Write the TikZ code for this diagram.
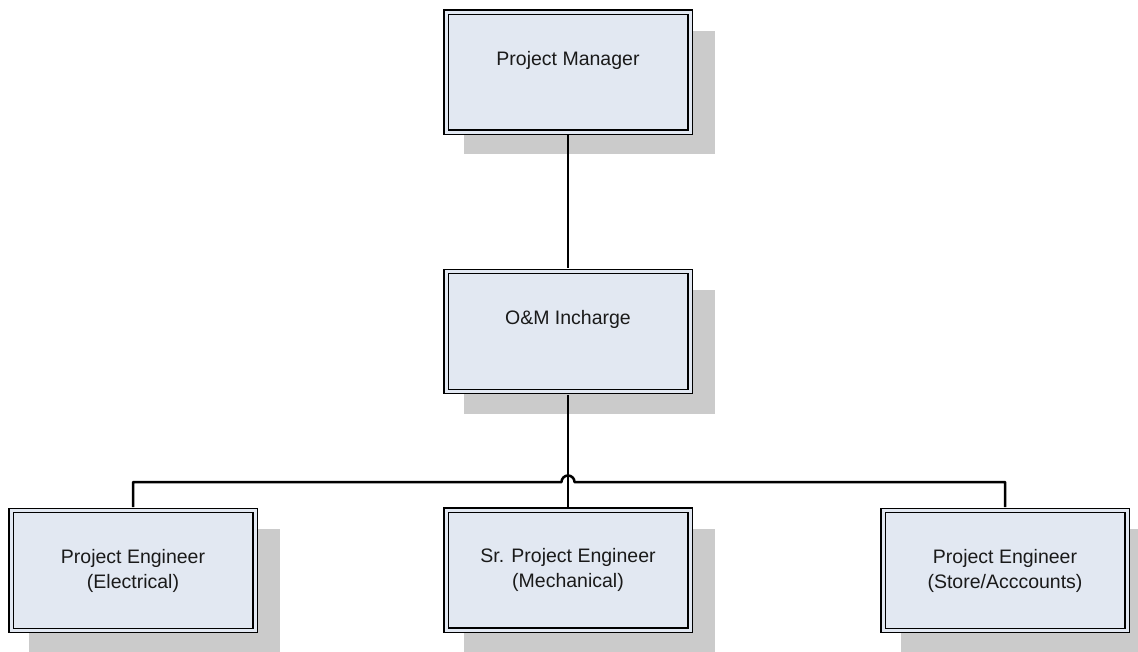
\documentclass[tikz,border=0pt]{standalone}
\usepackage{fontspec}
\setmainfont{Liberation Sans}
\usetikzlibrary{shadows}
\definecolor{boxfill}{HTML}{E2E8F2}
\definecolor{shadowgray}{HTML}{CBCBCB}
\definecolor{txt}{HTML}{1A1A1A}
\begin{document}
\begin{tikzpicture}[x=1pt,y=-1pt,
  orgbox/.style={rectangle, draw=black, line width=1.3pt, double=boxfill, double distance=3pt,
    fill=boxfill, minimum width=244pt, minimum height=120pt, inner sep=0pt, align=center,
    text=txt, font=\fontsize{19.5}{25}\selectfont,
    drop shadow={shadow xshift=21pt, shadow yshift=-20pt, shadow scale=1.03, fill=shadowgray, opacity=1, draw=none}},
  oneline/.style={text height=14pt, text depth=28pt},
  conn/.style={draw=black, line width=2.5pt, shorten <=2.8pt, shorten >=2.8pt}]
\useasboundingbox (0,0) rectangle (1138,651);
\node[orgbox, oneline] (pm) at (568,72) {Project Manager};
\node[orgbox, oneline] (om) at (568,331.5) {O\&M Incharge};
\node[orgbox] (pe1) at (133,570.5) {Project Engineer\\(Electrical)};
\node[orgbox] (pe2) at (568,570) {Sr. Project Engineer\\(Mechanical)};
\node[orgbox] (pe3) at (1005,570.5) {Project Engineer\\(Store/Acccounts)};
\coordinate (hl) at (0,482);
\draw[conn] (pm.south) -- (om.north);
\draw[conn] (om.south) -- (pe2.north);
\draw[conn, line join=round] (pe1.north) |- ([xshift=-6.5pt]om.south |- hl)
  arc[start angle=180, end angle=0, radius=6.5pt] -| (pe3.north);
\end{tikzpicture}
\end{document}
